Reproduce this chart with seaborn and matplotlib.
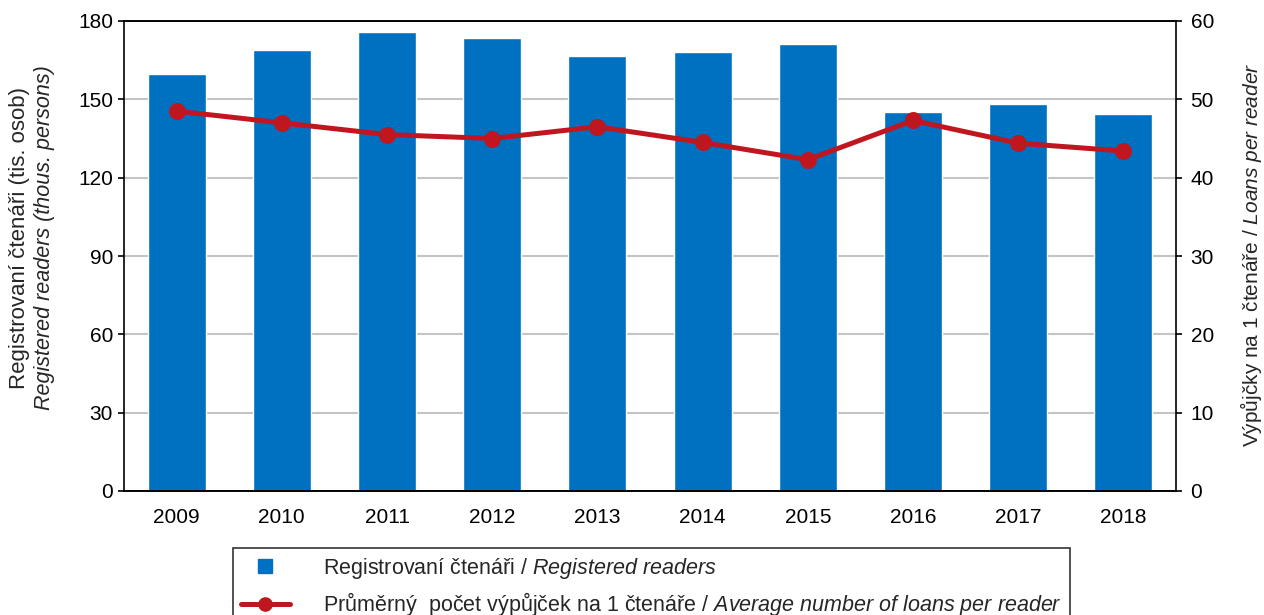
import numpy as np
import pandas as pd
import matplotlib
matplotlib.use("Agg")
import matplotlib.pyplot as plt
from matplotlib.lines import Line2D
import seaborn as sns

# Data
years = ["2009", "2010", "2011", "2012", "2013", "2014", "2015", "2016", "2017", "2018"]
readers = [159.7, 168.9, 175.8, 173.5, 166.6, 168.1, 171.2, 145.2, 148.2, 144.4]
loans_per_reader = [48.5, 47.0, 45.5, 45.0, 46.5, 44.5, 42.3, 47.3, 44.4, 43.4]

BLUE = "#0070C0"
RED = "#C0161F"
FS = 15

sns.set_theme(style="white")
plt.rcParams["font.family"] = ["Liberation Sans", "DejaVu Sans"]
plt.rcParams["mathtext.fontset"] = "custom"
plt.rcParams["mathtext.rm"] = "Liberation Sans"
plt.rcParams["mathtext.it"] = "Liberation Sans:italic"

df = pd.DataFrame({"year": years, "readers": readers, "loans": loans_per_reader})

fig = plt.figure(figsize=(12.64, 6.15), dpi=100)
ax = fig.add_axes([124 / 1264, 1 - 491 / 615, 1052 / 1264, 470 / 615])

# Bars: registered readers
sns.barplot(data=df, x="year", y="readers", color=BLUE, saturation=1,
            width=0.55, ax=ax, zorder=2)
ax.set_ylim(0, 180)
ax.set_xlim(-0.5, 9.5)
ax.set_yticks(np.arange(0, 181, 30))
ax.yaxis.grid(True, color="#C4C4C4", linewidth=1.5, zorder=0)
ax.set_axisbelow(True)
ax.set_xlabel("")
ax.set_ylabel("")

# Line: average loans per reader on secondary axis
ax2 = ax.twinx()
sns.pointplot(data=df, x="year", y="loans", color=RED, ax=ax2,
              markers="o", markersize=9.5, linewidth=3.6)
ax2.set_ylim(0, 60)
ax2.set_xlim(-0.5, 9.5)
ax2.set_yticks(np.arange(0, 61, 10))
ax2.set_ylabel("")
ax2.set_xlabel("")
ax2.grid(False)

for a in (ax, ax2):
    for s in a.spines.values():
        s.set_color("black")
        s.set_linewidth(1.2)
ax.spines["right"].set_visible(False)
ax2.spines["left"].set_visible(False)

# Ticks: category labels centred, tick marks on category boundaries
ax.set_xticks(np.arange(10))
ax.set_xticklabels(years)
ax.set_xticks(np.arange(-0.5, 10, 1), minor=True)
ax.tick_params(axis="x", which="major", length=0, pad=12, labelsize=FS, colors="black")
ax.tick_params(axis="x", which="minor", length=5, width=1.2, direction="out", color="black")
ax.tick_params(axis="y", length=4, width=1.2, direction="out", pad=4,
               labelsize=FS, colors="black", left=True)
ax2.tick_params(axis="y", length=4.5, width=1.2, direction="out", pad=6,
                labelsize=FS, colors="black", right=True)

# Axis titles
fig.text(20 / 1264, 1 - 238 / 615, "Registrovaní čtenáři (tis. osob)",
         rotation=90, ha="center", va="center", fontsize=16)
fig.text(45 / 1264, 1 - 238 / 615, "Registered readers (thous. persons)",
         rotation=90, ha="center", va="center", fontsize=15.5, style="italic")
fig.text(1251 / 1264, 1 - 255 / 615,
         r"Výpůjčky na 1 čtenáře / $\mathit{Loans\ per\ reader}$",
         rotation=90, ha="center", va="center", fontsize=FS)

# Legend
handles = [
    Line2D([], [], linestyle="none", marker="s", markersize=10,
           markerfacecolor=BLUE, markeredgecolor=BLUE),
    Line2D([], [], color=RED, linewidth=3.6, marker="o", markersize=9.5),
]
labels = [
    r"Registrovaní čtenáři / $\mathit{Registered\ readers}$",
    r"Průměrný  počet výpůjček na 1 čtenáře / $\mathit{Average\ number\ of\ loans\ per\ reader}$",
]
leg = fig.legend(handles, labels, loc="upper left",
                 bbox_to_anchor=(233 / 1264, 1 - 548 / 615),
                 frameon=True, fancybox=False, edgecolor="black",
                 fontsize=15.5, handlelength=2.3, handletextpad=1.55,
                 labelspacing=0.45, borderpad=0.35, borderaxespad=0)
leg.get_frame().set_linewidth(1.2)

fig.savefig("out.png", dpi=100)
